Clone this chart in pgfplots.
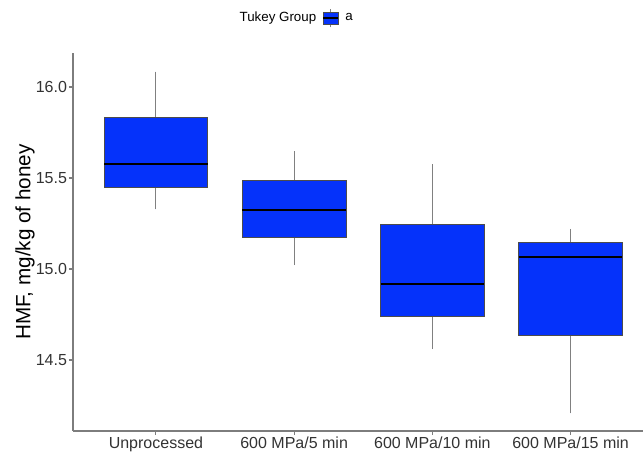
\documentclass[border=0pt]{standalone}
\usepackage{fontspec}
\setmainfont{Liberation Sans}
\usepackage{pgfplots}
\pgfplotsset{compat=1.18}
\usepgfplotslibrary{statistics}
\definecolor{boxblue}{RGB}{5,50,250}
\definecolor{spine}{RGB}{125,125,125}
\begin{document}
\begin{tikzpicture}
\begin{axis}[
  at={(0pt,0pt)}, anchor=south west,
  scale only axis, width=427.5pt, height=283.5pt,
  xmin=0.4, xmax=4.524, ymin=14.11, ymax=16.187,
  axis lines=left,
  axis line style={-, draw=spine, line width=0.8pt},
  tick align=outside, major tick length=3pt,
  tick style={draw=spine, line width=0.8pt},
  xtick={1,2,3,4},
  xticklabels={Unprocessed, 600 MPa/5 min, 600 MPa/10 min, 600 MPa/15 min},
  ytick={14.5,15,15.5,16},
  /pgf/number format/assume math mode=true,
  /pgf/number format/fixed, /pgf/number format/fixed zerofill, /pgf/number format/precision=1,
  tick label style={font=\fontsize{12}{14}\selectfont, text=black!80},
  xticklabel style={yshift=2pt},
  yticklabel style={xshift=2pt},
  ylabel={HMF, mg/kg of honey},
  every axis y label/.style={at={(axis description cs:-0.084,0.5)}, rotate=90, anchor=center,
    font=\fontsize{15.5}{18}\selectfont},
  boxplot/draw direction=y,
  boxplot/whisker extend=0,
  boxplot/every box/.append style={fill=boxblue, draw=black!70, line width=0.5pt},
  boxplot/every whisker/.append style={draw=gray, line width=0.7pt},
  boxplot/every median/.append style={draw=black, line width=1.3pt},
  legend columns=-1,
  legend style={at={(0.388,1.0926)}, anchor=center, draw=none, fill=none,
    font=\fontsize{10}{12}\selectfont, column sep=3pt},
  clip=false,
]
\addlegendimage{empty legend}
\addlegendentry{Tukey Group}
\addlegendimage{legend image code/.code={
  \draw[gray, line width=0.6pt] (5.5pt,-7pt) -- (5.5pt,7pt);
  \filldraw[fill=boxblue, draw=black!70, line width=0.4pt] (0pt,-4.5pt) rectangle (11pt,4.5pt);
  \draw[black, line width=0.8pt] (0pt,0pt) -- (11pt,0pt);
}}
\addlegendentry{a}
\addplot+[boxplot prepared={draw position=1, lower whisker=15.328, lower quartile=15.451,
  median=15.579, upper quartile=15.831, upper whisker=16.084, box extend=0.75},
  fill=boxblue, draw=black!70, mark=none] coordinates {};
\addplot+[boxplot prepared={draw position=2, lower whisker=15.022, lower quartile=15.172,
  median=15.324, upper quartile=15.489, upper whisker=15.648, box extend=0.75},
  fill=boxblue, draw=black!70, mark=none] coordinates {};
\addplot+[boxplot prepared={draw position=3, lower whisker=14.560, lower quartile=14.740,
  median=14.916, upper quartile=15.247, upper whisker=15.577, box extend=0.75},
  fill=boxblue, draw=black!70, mark=none] coordinates {};
\addplot+[boxplot prepared={draw position=4, lower whisker=14.207, lower quartile=14.637,
  median=15.068, upper quartile=15.145, upper whisker=15.220, box extend=0.75},
  fill=boxblue, draw=black!70, mark=none] coordinates {};
\end{axis}
\pgfresetboundingbox
\path (-54.75pt,-15.75pt) rectangle (427.5pt,323.25pt);
\end{tikzpicture}
\end{document}
